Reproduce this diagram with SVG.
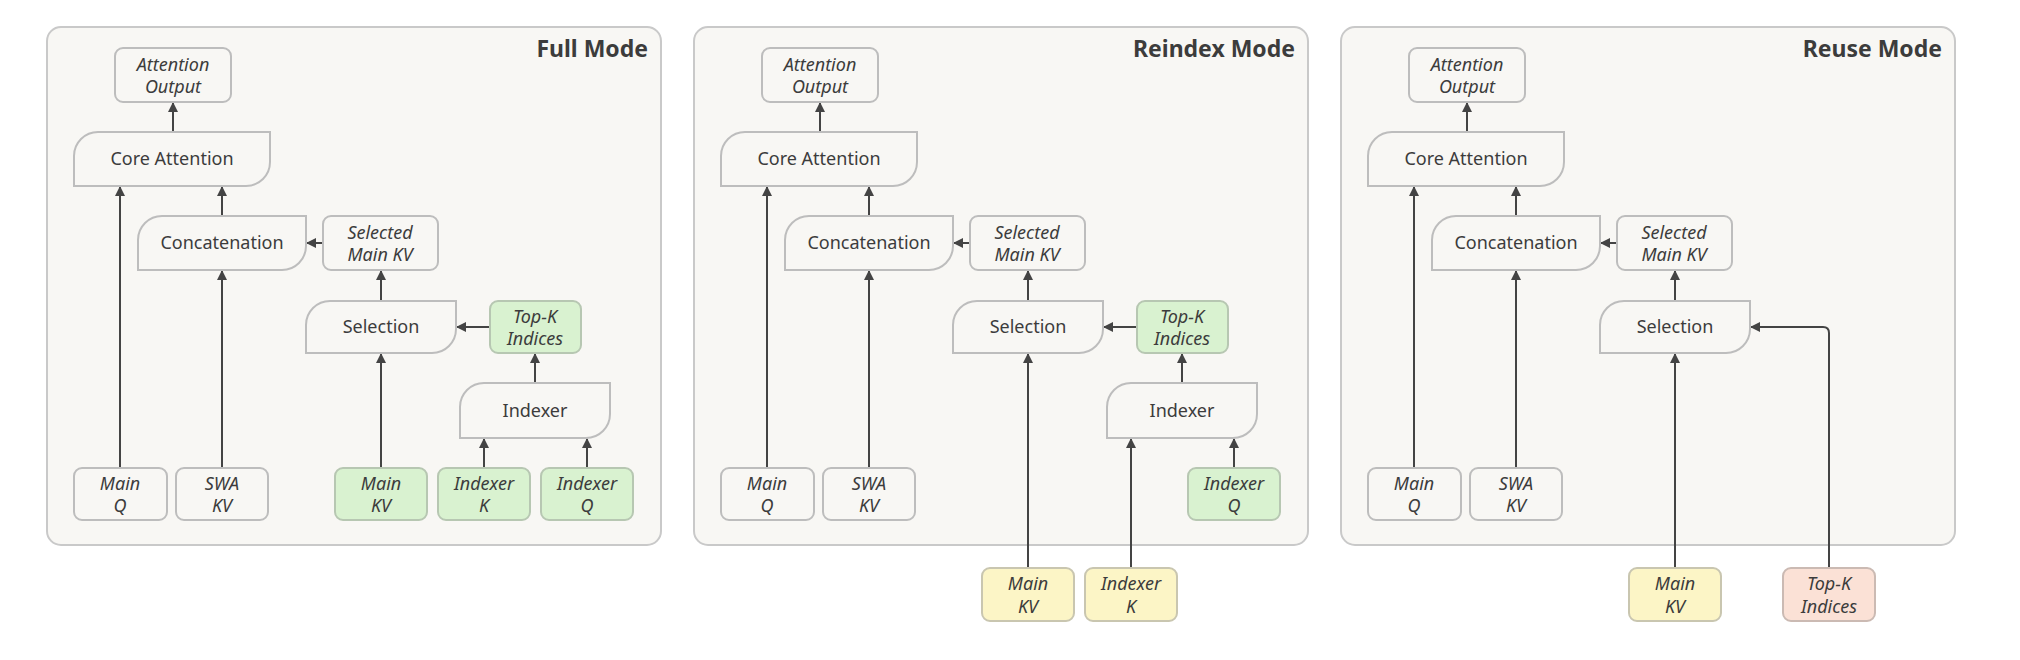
<svg xmlns="http://www.w3.org/2000/svg" width="2020" height="660" viewBox="0 0 2020 660">
<style>
.panel{fill:#f8f7f4;stroke:#c9c9c9;stroke-width:2}
.n{fill:#f8f7f4;stroke:#bdbdbd;stroke-width:2}
.g{fill:#d9f2d0;stroke:#b7c7b2;stroke-width:2}
.y{fill:#fcf5c6;stroke:#c9c6b0;stroke-width:2}
.p{fill:#fbe1d6;stroke:#cbbab3;stroke-width:2}
text{font-family:"Noto Sans","Open Sans","DejaVu Sans",sans-serif;fill:#3c3c3c;font-size:18px;text-anchor:middle}
.i{font-style:italic}
.t{font-size:23px;font-weight:bold;text-anchor:end}
.c line,.c path{stroke:#444;stroke-width:2;fill:none;marker-end:url(#ah)}
</style>
<defs>
<marker id="ah" viewBox="0 0 10 10" refX="9" refY="5" markerWidth="5" markerHeight="5" orient="auto"><path d="M0,0 L10,5 L0,10 Z" fill="#444"/></marker>
</defs>

<!-- Panel 1 Full Mode -->
<g id="full" transform="translate(47,27)">
<rect class="panel" x="0" y="0" width="614" height="518" rx="14"/>
<text class="t" x="601" y="30">Full Mode</text>
<g class="c">
<line x1="126" y1="105" x2="126" y2="76"/>
<line x1="73" y1="441" x2="73" y2="160"/>
<line x1="175" y1="441" x2="175" y2="244"/>
<line x1="175" y1="189" x2="175" y2="160"/>
<line x1="276" y1="216" x2="260" y2="216"/>
<line x1="334" y1="274" x2="334" y2="244"/>
<line x1="334" y1="441" x2="334" y2="327"/>
<line x1="443" y1="300" x2="410" y2="300"/>
<line x1="488" y1="356" x2="488" y2="327"/>
<line x1="437" y1="441" x2="437" y2="412"/>
<line x1="540" y1="441" x2="540" y2="412"/>
</g>
<g id="f-out"><rect class="n" x="68" y="21" width="116" height="54" rx="8"/><text class="i" x="126" y="44">Attention</text><text class="i" x="126" y="66">Output</text></g>
<g id="f-core"><path class="n" d="M27,159 V129 A24,24 0 0 1 51,105 H223 V135 A24,24 0 0 1 199,159 Z"/><text x="125" y="138">Core Attention</text></g>
<g id="f-concat"><path class="n" d="M91,243 V213 A24,24 0 0 1 115,189 H259 V219 A24,24 0 0 1 235,243 Z"/><text x="175" y="222">Concatenation</text></g>
<g id="f-selkv"><rect class="n" x="276" y="189" width="115" height="54" rx="8"/><text class="i" x="333" y="212">Selected</text><text class="i" x="333" y="234">Main KV</text></g>
<g id="f-sel"><path class="n" d="M259,326 V298 A24,24 0 0 1 283,274 H409 V302 A24,24 0 0 1 385,326 Z"/><text x="334" y="306">Selection</text></g>
<g id="f-topk"><rect class="g" x="443" y="274" width="91" height="52" rx="8"/><text class="i" x="488" y="296">Top-K</text><text class="i" x="488" y="318">Indices</text></g>
<g id="f-indexer"><path class="n" d="M413,411 V380 A24,24 0 0 1 437,356 H563 V387 A24,24 0 0 1 539,411 Z"/><text x="488" y="390">Indexer</text></g>
<g id="f-mainq"><rect class="n" x="27" y="441" width="93" height="52" rx="8"/><text class="i" x="73" y="463">Main</text><text class="i" x="73" y="485">Q</text></g>
<g id="f-swa"><rect class="n" x="129" y="441" width="92" height="52" rx="8"/><text class="i" x="175" y="463">SWA</text><text class="i" x="175" y="485">KV</text></g>
<g id="f-mainkv"><rect class="g" x="288" y="441" width="92" height="52" rx="8"/><text class="i" x="334" y="463">Main</text><text class="i" x="334" y="485">KV</text></g>
<g id="f-idxk"><rect class="g" x="391" y="441" width="92" height="52" rx="8"/><text class="i" x="437" y="463">Indexer</text><text class="i" x="437" y="485">K</text></g>
<g id="f-idxq"><rect class="g" x="494" y="441" width="92" height="52" rx="8"/><text class="i" x="540" y="463">Indexer</text><text class="i" x="540" y="485">Q</text></g>
</g>

<!-- Panel 2 Reindex Mode -->
<g id="reindex" transform="translate(694,27)">
<rect class="panel" x="0" y="0" width="614" height="518" rx="14"/>
<text class="t" x="601" y="30">Reindex Mode</text>
<g class="c">
<line x1="126" y1="105" x2="126" y2="76"/>
<line x1="73" y1="441" x2="73" y2="160"/>
<line x1="175" y1="441" x2="175" y2="244"/>
<line x1="175" y1="189" x2="175" y2="160"/>
<line x1="276" y1="216" x2="260" y2="216"/>
<line x1="334" y1="274" x2="334" y2="244"/>
<line x1="334" y1="541" x2="334" y2="327"/>
<line x1="443" y1="300" x2="410" y2="300"/>
<line x1="488" y1="356" x2="488" y2="327"/>
<line x1="437" y1="541" x2="437" y2="412"/>
<line x1="540" y1="441" x2="540" y2="412"/>
</g>
<g id="r-out"><rect class="n" x="68" y="21" width="116" height="54" rx="8"/><text class="i" x="126" y="44">Attention</text><text class="i" x="126" y="66">Output</text></g>
<g id="r-core"><path class="n" d="M27,159 V129 A24,24 0 0 1 51,105 H223 V135 A24,24 0 0 1 199,159 Z"/><text x="125" y="138">Core Attention</text></g>
<g id="r-concat"><path class="n" d="M91,243 V213 A24,24 0 0 1 115,189 H259 V219 A24,24 0 0 1 235,243 Z"/><text x="175" y="222">Concatenation</text></g>
<g id="r-selkv"><rect class="n" x="276" y="189" width="115" height="54" rx="8"/><text class="i" x="333" y="212">Selected</text><text class="i" x="333" y="234">Main KV</text></g>
<g id="r-sel"><path class="n" d="M259,326 V298 A24,24 0 0 1 283,274 H409 V302 A24,24 0 0 1 385,326 Z"/><text x="334" y="306">Selection</text></g>
<g id="r-topk"><rect class="g" x="443" y="274" width="91" height="52" rx="8"/><text class="i" x="488" y="296">Top-K</text><text class="i" x="488" y="318">Indices</text></g>
<g id="r-indexer"><path class="n" d="M413,411 V380 A24,24 0 0 1 437,356 H563 V387 A24,24 0 0 1 539,411 Z"/><text x="488" y="390">Indexer</text></g>
<g id="r-mainq"><rect class="n" x="27" y="441" width="93" height="52" rx="8"/><text class="i" x="73" y="463">Main</text><text class="i" x="73" y="485">Q</text></g>
<g id="r-swa"><rect class="n" x="129" y="441" width="92" height="52" rx="8"/><text class="i" x="175" y="463">SWA</text><text class="i" x="175" y="485">KV</text></g>
<g id="r-idxq"><rect class="g" x="494" y="441" width="92" height="52" rx="8"/><text class="i" x="540" y="463">Indexer</text><text class="i" x="540" y="485">Q</text></g>
<g id="r-mainkv"><rect class="y" x="288" y="541" width="92" height="53" rx="8"/><text class="i" x="334" y="563">Main</text><text class="i" x="334" y="586">KV</text></g>
<g id="r-idxk"><rect class="y" x="391" y="541" width="92" height="53" rx="8"/><text class="i" x="437" y="563">Indexer</text><text class="i" x="437" y="586">K</text></g>
</g>

<!-- Panel 3 Reuse Mode -->
<g id="reuse" transform="translate(1341,27)">
<rect class="panel" x="0" y="0" width="614" height="518" rx="14"/>
<text class="t" x="601" y="30">Reuse Mode</text>
<g class="c">
<line x1="126" y1="105" x2="126" y2="76"/>
<line x1="73" y1="441" x2="73" y2="160"/>
<line x1="175" y1="441" x2="175" y2="244"/>
<line x1="175" y1="189" x2="175" y2="160"/>
<line x1="276" y1="216" x2="260" y2="216"/>
<line x1="334" y1="274" x2="334" y2="244"/>
<line x1="334" y1="541" x2="334" y2="327"/>
<path d="M488,541 V306 Q488,300 482,300 H410"/>
</g>
<g id="u-out"><rect class="n" x="68" y="21" width="116" height="54" rx="8"/><text class="i" x="126" y="44">Attention</text><text class="i" x="126" y="66">Output</text></g>
<g id="u-core"><path class="n" d="M27,159 V129 A24,24 0 0 1 51,105 H223 V135 A24,24 0 0 1 199,159 Z"/><text x="125" y="138">Core Attention</text></g>
<g id="u-concat"><path class="n" d="M91,243 V213 A24,24 0 0 1 115,189 H259 V219 A24,24 0 0 1 235,243 Z"/><text x="175" y="222">Concatenation</text></g>
<g id="u-selkv"><rect class="n" x="276" y="189" width="115" height="54" rx="8"/><text class="i" x="333" y="212">Selected</text><text class="i" x="333" y="234">Main KV</text></g>
<g id="u-sel"><path class="n" d="M259,326 V298 A24,24 0 0 1 283,274 H409 V302 A24,24 0 0 1 385,326 Z"/><text x="334" y="306">Selection</text></g>
<g id="u-mainq"><rect class="n" x="27" y="441" width="93" height="52" rx="8"/><text class="i" x="73" y="463">Main</text><text class="i" x="73" y="485">Q</text></g>
<g id="u-swa"><rect class="n" x="129" y="441" width="92" height="52" rx="8"/><text class="i" x="175" y="463">SWA</text><text class="i" x="175" y="485">KV</text></g>
<g id="u-mainkv"><rect class="y" x="288" y="541" width="92" height="53" rx="8"/><text class="i" x="334" y="563">Main</text><text class="i" x="334" y="586">KV</text></g>
<g id="u-topk"><rect class="p" x="442" y="541" width="92" height="53" rx="8"/><text class="i" x="488" y="563">Top-K</text><text class="i" x="488" y="586">Indices</text></g>
</g>
</svg>
